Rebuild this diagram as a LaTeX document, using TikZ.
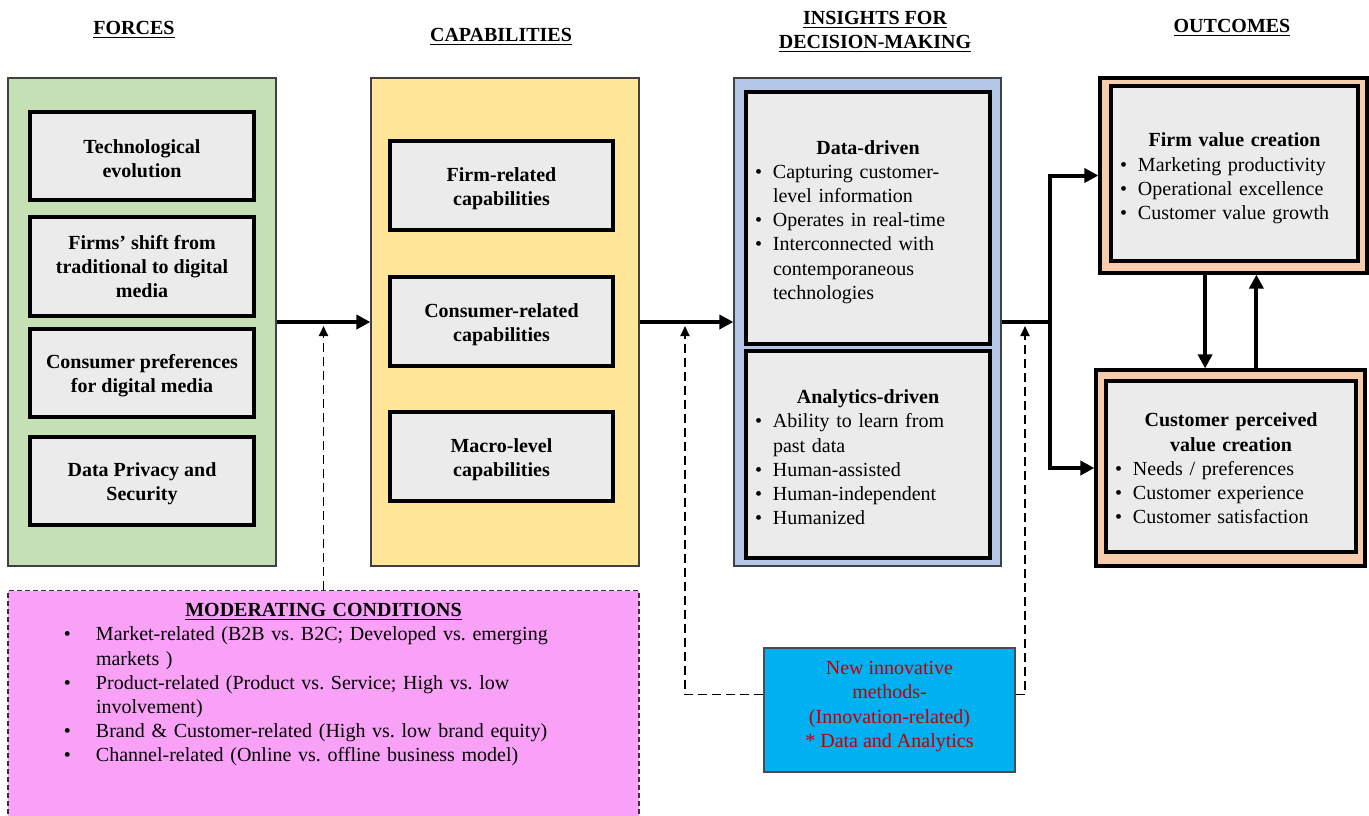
\documentclass[tikz,border=0pt]{standalone}
\usepackage{fontspec}
\setmainfont{Liberation Serif}
\usetikzlibrary{positioning,arrows.meta}
\definecolor{forcefill}{HTML}{C5E0B4}
\definecolor{capfill}{HTML}{FFE699}
\definecolor{insightfill}{HTML}{B4C7E7}
\definecolor{outcomefill}{HTML}{F8CBAD}
\definecolor{itemgray}{HTML}{EBEBEB}
\definecolor{modfill}{HTML}{F9A1F7}
\definecolor{innovfill}{HTML}{00B0F0}
\definecolor{innovtext}{HTML}{C00000}
\newcommand{\bitem}[2][10.5pt]{\par\noindent\hangindent=#1\hangafter=1\makebox[#1][l]{\hspace{1.5pt}\textbullet}#2\par}
\newcommand{\topstrut}{\rule{0pt}{9.9pt}}
\tikzset{%
    panel/.style={
      rectangle,
      draw=black!75,
      line width=0.6pt,
      minimum width=134pt,
      minimum height=244pt
    },
    item/.style={
      rectangle,
      draw,
      line width=1.6pt,
      fill=itemgray,
      align=center,
      font=\bfseries,
      inner sep=3pt,
      minimum width=112pt,
      minimum height=44pt
    },
    listbox/.style={
      rectangle,
      draw,
      line width=1.6pt,
      fill=itemgray,
      align=left,
      inner sep=3pt
    },
    outcomebox/.style={
      rectangle,
      draw,
      line width=1.6pt,
      fill=outcomefill
    },
    heading/.style={
      font=\bfseries,
      align=center
    },
    flow/.style={->, line width=2pt},
    modflow/.style={
      -{Triangle[length=5pt,width=4.5pt]},
      dash pattern=on 4.5pt off 2.5pt,
      line width=0.9pt,
      shorten >=2pt
    }
  }

\begin{document}
\fontsize{10}{12.1}\selectfont\frenchspacing
\begin{tikzpicture}[x=0.5pt, y=-0.5pt, >={Triangle[length=7pt,width=7pt]}]
      \useasboundingbox (0,0) rectangle (1369,815);

      \node [heading] (forceshead) at (134,30) {\underline{FORCES}};
      \node [heading] (caphead) at (501,37) {\underline{CAPABILITIES}};
      \node [heading] (insighthead) at (875,32) {\underline{INSIGHTS FOR}\\\underline{DECISION-MAKING}};
      \node [heading] (outcomehead) at (1232,28) {\underline{OUTCOMES}};

      \node [panel, fill=forcefill] (forces) at (142,322) {};
      \node [panel, fill=capfill] (capab) at (505,322) {};
      \node [panel, fill=insightfill, minimum width=133.5pt] (insights) at (867.5,322) {};

      \node [item] (tech) at (142,156) {\topstrut Technological\\evolution};
      \node [item, minimum height=49.5pt] (shift) at (142,266.5) {Firms’ shift from\\traditional to digital\\media};
      \node [item] (prefs) at (142,373) {\topstrut Consumer preferences\\for digital media};
      \node [item] (privacy) at (142,481) {\topstrut Data Privacy and\\Security};

      \node [item, minimum width=111.5pt, minimum height=44.5pt] (firmcap) at (501.5,185.5) {\topstrut Firm-related\\capabilities};
      \node [item, minimum width=111.5pt, minimum height=44.5pt] (conscap) at (501.5,321.5) {\topstrut Consumer-related\\capabilities};
      \node [item, minimum width=111.5pt, minimum height=44.5pt] (macrocap) at (501.5,456.5) {\topstrut Macro-level\\capabilities};

      \node [listbox, text width=116pt, minimum height=126pt] (datadriven) at (868,218) {{\centering\rule{0pt}{10.8pt}\textbf{Data-driven}\par}
        \bitem{Capturing customer-\newline level information}
        \bitem{Operates in real-time}
        \bitem{Interconnected with\newline contemporaneous\newline technologies}};
      \node [listbox, text width=116pt, minimum height=103.5pt] (analytics) at (868,454.5) {{\centering\rule{0pt}{9.8pt}\textbf{Analytics-driven}\par}
        \bitem{Ability to learn from\newline past data}
        \bitem{Human-assisted}
        \bitem{Human-independent}
        \bitem{Humanized}};

      \node [outcomebox, minimum width=133.5pt, minimum height=97.5pt] (firmout) at (1233.5,175.5) {};
      \node [listbox, text width=117.5pt, minimum height=87.5pt] (firmvalue) at (1234.5,173.5) {{\centering\rule{0pt}{11.8pt}\textbf{Firm value creation}\par}
        \bitem{Marketing productivity}
        \bitem{Operational excellence}
        \bitem{Customer value growth}};
      \node [outcomebox, minimum width=134.5pt, minimum height=98pt] (custout) at (1230.5,468) {};
      \node [listbox, text width=119pt, minimum height=85.5pt] (custvalue) at (1231,466.5) {{\centering\rule{0pt}{8.8pt}\textbf{Customer perceived\\value creation}\par}
        \bitem{Needs / preferences}
        \bitem{Customer experience}
        \bitem{Customer satisfaction}};

      \node [rectangle, draw=black!80, dash pattern=on 2.5pt off 1.5pt, line width=0.6pt, fill=modfill, minimum width=315.5pt, minimum height=116pt, anchor=north] (mod) at (323.5,590) {};
      \node [align=left, text width=262.5pt, inner sep=0pt, below=6.5pt of mod.north] (modtext) {{\centering\textbf{\underline{MODERATING CONDITIONS}}\par}
        \bitem[17.5pt]{Market-related (B2B vs. B2C; Developed vs. emerging\newline markets )}
        \bitem[17.5pt]{Product-related (Product vs. Service; High vs. low\newline involvement)}
        \bitem[17.5pt]{Brand \& Customer-related (High vs. low brand equity)}
        \bitem[17.5pt]{Channel-related (Online vs. offline business model)}};

      \node [rectangle, draw=black!70, line width=0.6pt, fill=innovfill, text=innovtext, align=center, minimum width=125.5pt, minimum height=62pt] (innov) at (889.5,710) {New innovative\\methods-\\(Innovation-related)\\* Data and Analytics\rule[-5.7pt]{0pt}{5.7pt}};

      \coordinate (split) at (1050,322);
      \coordinate (tapL) at (685,322);
      \coordinate (tapR) at (1025,322);

      \draw [flow] (forces) -- (capab);
      \draw [flow] (capab) -- (insights);
      \draw [flow] (insights.east) -- (split) |- (firmout.west);
      \draw [flow] (split) |- (custout.west);

      \draw [flow] (firmout.254) -- (firmout.254 |- custout.north);
      \draw [flow] (firmout.283 |- custout.north) -- (firmout.283);

      \draw [modflow] (mod.north) -- (mod.north |- forces.east);
      \draw [modflow] (innov.173) -| (tapL);
      \draw [modflow] (innov.7) -| (tapR);
\end{tikzpicture}
\end{document}
